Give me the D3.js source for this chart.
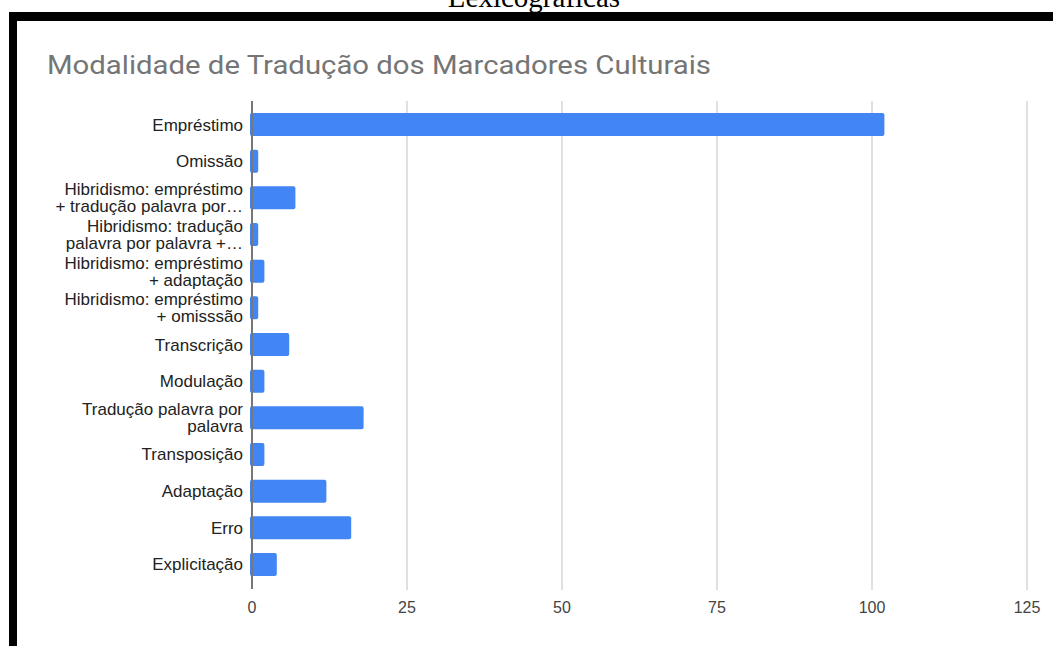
<!DOCTYPE html>
<html>
<head>
<meta charset="utf-8">
<script src="https://cdn.jsdelivr.net/npm/d3@7"></script>
<style>
    body { margin: 0; background: #fff; }
    svg { display: block; }
</style>
</head>
<body>
<div id="chart"></div>
<script>
// categories, top to bottom (line breaks as in the original chart)
const categories = [
    'Empréstimo',
    'Omissão',
    'Hibridismo: empréstimo\n+ tradução palavra por…',
    'Hibridismo: tradução\npalavra por palavra +…',
    'Hibridismo: empréstimo\n+ adaptação',
    'Hibridismo: empréstimo\n+ omisssão',
    'Transcrição',
    'Modulação',
    'Tradução palavra por\npalavra',
    'Transposição',
    'Adaptação',
    'Erro',
    'Explicitação'
];
const counts = [102, 1, 7, 1, 2, 1, 6, 2, 18, 2, 12, 16, 4];
const xTicks = [0, 25, 50, 75, 100, 125];
const chartTitle = 'Modalidade de Tradução dos Marcadores Culturais';
const pageCaption = 'Lexicográficas';

const width = 1053;
const height = 646;

const svg = d3.select('#chart')
    .append('svg')
    .attr('width', width)
    .attr('height', height);

// caption of the document, cut off at the top like in the screenshot
svg.append('text')
    .attr('x', 534)
    .attr('y', 7)
    .attr('text-anchor', 'middle')
    .style('font-family', '"Liberation Serif", "Times New Roman", serif')
    .style('font-size', '29px')
    .style('fill', '#000')
    .text(pageCaption);

// black frame (top and left)
svg.append('rect').attr('x', 9).attr('y', 12).attr('width', width - 9).attr('height', 9).attr('fill', '#000');
svg.append('rect').attr('x', 9).attr('y', 12).attr('width', 8).attr('height', height - 12).attr('fill', '#000');

// title
svg.append('text')
    .attr('x', 47)
    .attr('y', 74)
    .attr('textLength', 664)
    .attr('lengthAdjust', 'spacingAndGlyphs')
    .style('font-family', 'Roboto, "Liberation Sans", Arial, sans-serif')
    .style('font-size', '26px')
    .style('fill', '#757575')
    .text(chartTitle);

const x = d3.scaleLinear().domain([0, 125]).range([252, 1027]);
const y = d3.scaleBand()
    .domain(categories)
    .range([106.2, 582.8])
    .paddingInner(0.373)
    .paddingOuter(0.1865);

// gridlines
svg.append('g')
    .selectAll('line')
    .data(xTicks.filter(d => d > 0))
    .enter().append('line')
    .attr('x1', d => x(d))
    .attr('x2', d => x(d))
    .attr('y1', 101)
    .attr('y2', 590)
    .attr('stroke', '#e0e0e0')
    .attr('stroke-width', 2);

// bars
svg.append('g')
    .selectAll('rect')
    .data(categories)
    .enter().append('rect')
    .attr('x', x(0) - 2)
    .attr('y', d => y(d))
    .attr('width', (d, i) => x(counts[i]) - x(0) + 2)
    .attr('height', y.bandwidth())
    .attr('rx', 2)
    .attr('fill', '#4285f4');

// zero axis line
svg.append('line')
    .attr('x1', x(0))
    .attr('x2', x(0))
    .attr('y1', 101)
    .attr('y2', 589)
    .attr('stroke', '#777')
    .attr('stroke-width', 2);

// category labels
const labels = svg.append('g')
    .selectAll('text')
    .data(categories)
    .enter().append('text')
    .attr('text-anchor', 'end')
    .style('font-family', '"Liberation Sans", Arial, sans-serif')
    .style('font-size', '17px')
    .style('fill', '#222');

labels.each(function(d) {
    const lines = d.split('\n');
    const cy = y(d) + y.bandwidth() / 2;
    const lineH = 17;
    const t = d3.select(this);
    lines.forEach((ln, k) => {
        t.append('tspan')
            .attr('x', 243)
            .attr('y', cy + (k - (lines.length - 1) / 2) * lineH + 6)
            .text(ln);
    });
});

// x tick labels
svg.append('g')
    .selectAll('text')
    .data(xTicks)
    .enter().append('text')
    .attr('x', d => x(d))
    .attr('y', 613)
    .attr('text-anchor', 'middle')
    .style('font-family', '"Liberation Sans", Arial, sans-serif')
    .style('font-size', '16px')
    .style('fill', '#444')
    .text(d => d);
</script>
</body>
</html>
